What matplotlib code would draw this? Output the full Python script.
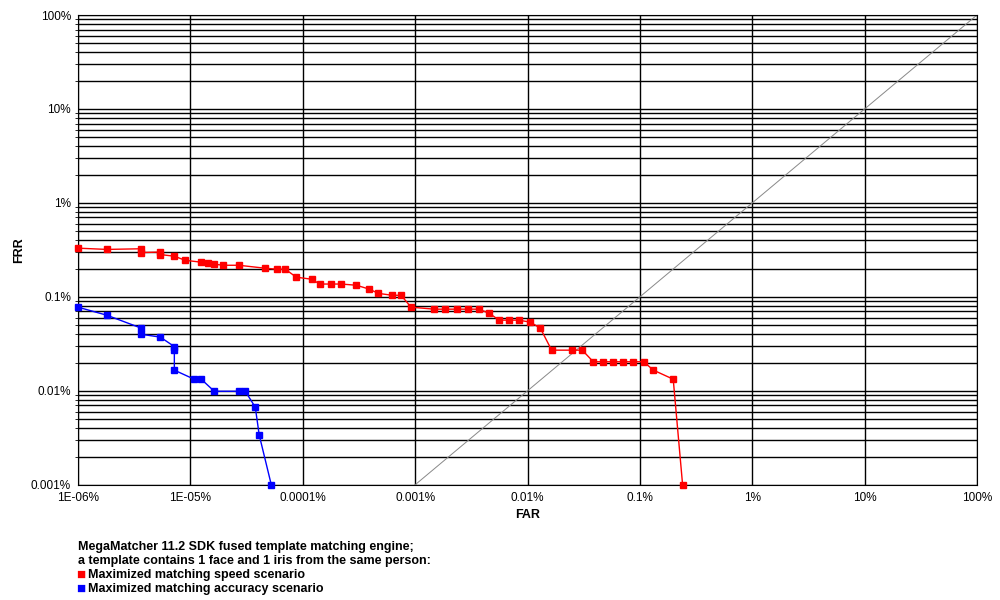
import matplotlib
matplotlib.use("Agg")
import matplotlib.pyplot as plt
from matplotlib.ticker import LogLocator, FixedLocator, NullFormatter

plt.rcParams["font.family"] = "Liberation Sans"

xticks = [1e-6, 1e-5, 1e-4, 1e-3, 1e-2, 1e-1, 1, 10, 100]
xlabels = ["1E-06%", "1E-05%", "0.0001%", "0.001%", "0.01%", "0.1%", "1%", "10%", "100%"]
yticks = [1e-3, 1e-2, 1e-1, 1, 10, 100]
ylabels = ["0.001%", "0.01%", "0.1%", "1%", "10%", "100%"]

speed_far = [1e-6, 1.8e-6, 3.6e-6, 3.6e-6, 5.4e-6, 5.4e-6, 7.2e-6, 9.0e-6, 1.25e-5, 1.44e-5,
             1.63e-5, 1.96e-5, 2.7e-5, 4.6e-5, 5.9e-5, 7.0e-5, 8.75e-5, 1.21e-4, 1.41e-4, 1.79e-4,
             2.2e-4, 3.0e-4, 3.9e-4, 4.7e-4, 6.25e-4, 7.5e-4, 9.2e-4, 1.48e-3, 1.85e-3, 2.37e-3,
             2.97e-3, 3.67e-3, 4.56e-3, 5.6e-3, 6.9e-3, 8.4e-3, 1.06e-2, 1.30e-2, 1.64e-2, 2.5e-2,
             3.07e-2, 3.85e-2, 4.7e-2, 5.8e-2, 7.1e-2, 8.7e-2, 0.108, 0.132, 0.198, 0.24]
speed_frr = [0.33, 0.32, 0.325, 0.296, 0.30, 0.282, 0.271, 0.245, 0.234, 0.228,
             0.223, 0.217, 0.217, 0.202, 0.197, 0.197, 0.162, 0.154, 0.137, 0.137,
             0.137, 0.133, 0.121, 0.109, 0.104, 0.104, 0.0777, 0.074, 0.074, 0.074,
             0.074, 0.074, 0.067, 0.0565, 0.0565, 0.0565, 0.0538, 0.0465, 0.0271, 0.0271,
             0.0271, 0.0204, 0.0204, 0.0204, 0.0204, 0.0204, 0.0204, 0.0166, 0.0133, 0.001]

acc_far = [1e-6, 1.8e-6, 3.6e-6, 3.6e-6, 5.4e-6, 7.2e-6, 7.2e-6, 7.2e-6, 1.08e-5, 1.25e-5,
           1.63e-5, 2.7e-5, 3.08e-5, 3.78e-5, 4.1e-5, 5.25e-5]
acc_frr = [0.0777, 0.0639, 0.0468, 0.0401, 0.0373, 0.0296, 0.0273, 0.0166, 0.0133, 0.0133,
           0.0099, 0.0099, 0.0099, 0.0067, 0.00338, 0.001]

diag = [1e-3, 100]

fig = plt.figure(figsize=(10, 6), dpi=100)
ax = fig.add_axes([0.078, 0.192, 0.899, 0.783])
ax.set_xscale("log")
ax.set_yscale("log")
ax.set_xlim(1e-6, 100)
ax.set_ylim(1e-3, 100)

ax.xaxis.set_major_locator(FixedLocator(xticks))
ax.set_xticklabels(xlabels)
ax.xaxis.set_minor_locator(FixedLocator([]))
ax.yaxis.set_major_locator(FixedLocator(yticks))
ax.set_yticklabels(ylabels)
ax.yaxis.set_minor_locator(LogLocator(base=10, subs=range(2, 10)))
ax.yaxis.set_minor_formatter(NullFormatter())
ax.grid(True, which="major", color="black", lw=1)
ax.grid(True, which="minor", axis="y", color="black", lw=1)
ax.tick_params(length=0, labelsize=8.5, pad=5)
for s in ax.spines.values():
    s.set_color("black")

ax.plot(diag, diag, color="#888888", lw=0.7, zorder=2)
ax.plot(speed_far, speed_frr, color="red", lw=1, marker="s", ms=4, zorder=3, clip_on=False)
ax.plot(acc_far, acc_frr, color="blue", lw=1, marker="s", ms=4, zorder=3, clip_on=False)

ax.set_xlabel("FAR", fontweight="bold", fontsize=9)
ax.set_ylabel("FRR", fontweight="bold", fontsize=9)

fig.text(0.078, 0.055, "MegaMatcher 11.2 SDK fused template matching engine;\n"
         "a template contains 1 face and 1 iris from the same person:",
         fontsize=9, fontweight="bold", va="bottom")
fig.text(0.076, 0.042, "\u25A0", color="red", fontsize=11, va="center")
fig.text(0.088, 0.042, "Maximized matching speed scenario", fontsize=9, fontweight="bold", va="center")
fig.text(0.076, 0.018, "\u25A0", color="blue", fontsize=11, va="center")
fig.text(0.088, 0.018, "Maximized matching accuracy scenario", fontsize=9, fontweight="bold", va="center")

fig.savefig("out.png", dpi=100)
